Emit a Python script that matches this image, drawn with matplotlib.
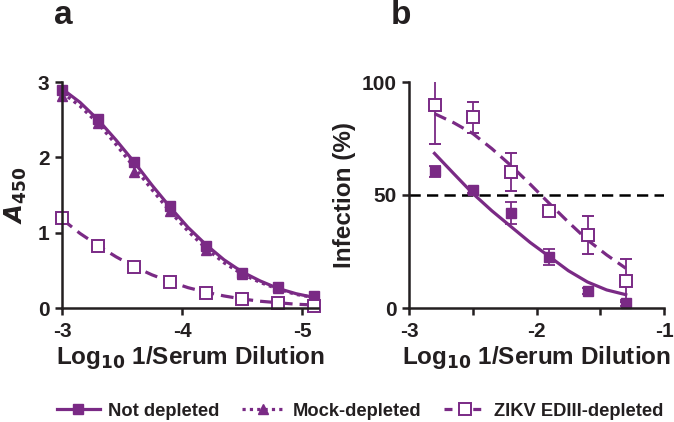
"""Serum depletion ELISA (a) and infection (b) curves."""

import matplotlib
matplotlib.use('Agg')
import matplotlib.pyplot as plt
from matplotlib.lines import Line2D

PURPLE = '#7a2a85'
INK = '#231f20'

plt.rcParams['font.family'] = ['Liberation Sans', 'DejaVu Sans']
plt.rcParams['font.weight'] = 'bold'

# Panel a: ELISA, A450 by log10 dilution
a_x = [-3.0, -3.3, -3.6, -3.9, -4.2, -4.5, -4.8, -5.1]
a_not_depleted = [2.90, 2.51, 1.94, 1.35, 0.82, 0.47, 0.28, 0.16]
a_mock = [2.81, 2.45, 1.81, 1.29, 0.77, 0.45, 0.26, 0.15]
a_zikv = [1.19, 0.82, 0.55, 0.35, 0.20, 0.12, 0.06, 0.02]

# fitted curves
a_fit_x = [-3.0, -3.15, -3.3, -3.45, -3.6, -3.75, -3.9, -4.05, -4.2,
           -4.35, -4.5, -4.65, -4.8, -4.95, -5.1]
a_fit_not = [2.91, 2.73, 2.50, 2.23, 1.94, 1.63, 1.34, 1.07, 0.84,
             0.64, 0.48, 0.36, 0.26, 0.19, 0.14]
a_fit_mock = [2.86, 2.68, 2.45, 2.17, 1.87, 1.57, 1.28, 1.02, 0.79,
              0.60, 0.45, 0.34, 0.25, 0.18, 0.14]
a_fit_zikv = [1.18, 0.99, 0.83, 0.68, 0.55, 0.44, 0.35, 0.27, 0.21,
              0.16, 0.12, 0.09, 0.07, 0.05, 0.04]

# Panel b: infection (%) by log10 dilution
b_x = [-2.8, -2.5, -2.2, -1.9, -1.6, -1.3]
b_not_depleted = [60.5, 52.2, 42.0, 22.5, 7.5, 2.2]
b_not_err = [2.5, 1.5, 5.0, 3.5, 1.5, 1.5]
b_zikv = [89.7, 84.3, 60.3, 43.1, 32.4, 12.1]
b_zikv_err = [17.0, 7.0, 8.5, 2.0, 8.5, 9.5]

b_fit_x = [-2.8, -2.65, -2.5, -2.35, -2.2, -2.05, -1.9, -1.75, -1.6, -1.45, -1.3]
b_fit_not = [68.4, 59.5, 50.7, 43.0, 36.0, 29.0, 22.8, 16.5, 11.5, 8.0, 5.9]
b_fit_zikv = [86.0, 82.0, 77.2, 70.5, 63.0, 54.8, 46.3, 38.0, 30.1, 23.5, 17.6]

labels = ['Not depleted', 'Mock-depleted', 'ZIKV EDIII-depleted']

LW = 2.3
DASH = (4.0, 2.2)
DOT = (1, 1.3)


def style_axes(ax):
    for side in ['top', 'right']:
        ax.spines[side].set_visible(False)
    for side in ['left', 'bottom']:
        ax.spines[side].set_linewidth(1.8)
        ax.spines[side].set_color(INK)
    ax.tick_params(width=1.8, length=5, labelsize=15, colors=INK)
    ax.tick_params(axis='x', pad=5)
    ax.tick_params(axis='y', pad=4)
    for lbl in ax.get_xticklabels() + ax.get_yticklabels():
        lbl.set_fontweight('bold')


fig = plt.figure(figsize=(6.74, 4.22), dpi=100)

# ---- panel a
ax1 = fig.add_axes([62 / 674, 1 - 308 / 422, 256 / 674, 226 / 422])
ax1.plot(a_fit_x, a_fit_not, color=PURPLE, lw=LW)
ax1.plot(a_fit_x, a_fit_mock, color=PURPLE, lw=LW, linestyle=(0, DOT))
ax1.plot(a_fit_x, a_fit_zikv, color=PURPLE, lw=LW, linestyle=(0, DASH))
ax1.plot(a_x, a_not_depleted, 's', color=PURPLE, ms=7.5, clip_on=False)
ax1.plot(a_x, a_mock, '^', color=PURPLE, ms=7.5, clip_on=False)
ax1.plot(a_x, a_zikv, 's', mfc='white', mec=PURPLE, mew=1.4, ms=8, clip_on=False)
ax1.set_xlim(-3, -5.133)
ax1.set_ylim(0, 3)
ax1.set_xticks([-3, -4, -5])
ax1.set_xticklabels(['-3', '-4', '-5'])
ax1.set_yticks([0, 1, 2, 3])
style_axes(ax1)
ax1.set_xlabel('Log$_{\\mathbf{10}}$ 1/Serum Dilution', fontsize=17.5,
               fontweight='bold', labelpad=2, color=INK)
ax1.set_ylabel('$\\mathbfit{A}_{\\mathbf{450}}$', fontsize=17.5, labelpad=6,
               color=INK)
fig.text(54 / 674, 1 - 24 / 422, 'a', fontsize=24, fontweight='bold', color=INK)

# ---- panel b
ax2 = fig.add_axes([409 / 674, 1 - 308 / 422, 255 / 674, 226 / 422])
ax2.axhline(50, color='black', lw=1.8, linestyle=(0, (4.5, 2.5)))
ax2.plot(b_fit_x, b_fit_not, color=PURPLE, lw=LW)
ax2.plot(b_fit_x, b_fit_zikv, color=PURPLE, lw=LW, linestyle=(0, DASH))
ax2.errorbar(b_x, b_not_depleted, yerr=b_not_err, fmt='s', color=PURPLE,
             ms=7.5, elinewidth=1.3, capsize=4.5, capthick=1.3, clip_on=False)
ax2.errorbar(b_x, b_zikv, yerr=b_zikv_err, fmt='s', color=PURPLE, mfc='white',
             mec=PURPLE, mew=1.4, ms=8.5, elinewidth=1.3, capsize=4.5,
             capthick=1.3)
ax2.set_xlim(-3, -1)
ax2.set_ylim(0, 100)
ax2.set_xticks([-3, -2.5, -2, -1.5, -1])
ax2.set_xticklabels(['-3', '', '-2', '', '-1'])
ax2.set_yticks([0, 50, 100])
style_axes(ax2)
ax2.set_xlabel('Log$_{\\mathbf{10}}$ 1/Serum Dilution', fontsize=17.5,
               fontweight='bold', labelpad=2, color=INK)
ax2.set_ylabel('Infection (%)', fontsize=17.5, fontweight='bold', labelpad=4,
               color=INK)
fig.text(391 / 674, 1 - 24 / 422, 'b', fontsize=24, fontweight='bold', color=INK)

# ---- shared legend
handles = [
    Line2D([], [], color=PURPLE, lw=LW, marker='s', ms=7.5),
    Line2D([], [], color=PURPLE, lw=LW, linestyle=(0, DOT), marker='^', ms=7.5),
    Line2D([], [], color=PURPLE, lw=LW, linestyle=(0, (2.5, 2)), marker='s',
           mfc='white', mec=PURPLE, mew=1.4, ms=8),
]
leg = fig.legend(handles, labels, loc='center', bbox_to_anchor=(0.535, 1 - 411 / 422),
                 ncol=3, frameon=False, fontsize=13.2, handlelength=2.3,
                 handletextpad=0.45, columnspacing=1.25, borderaxespad=0)
for txt in leg.get_texts():
    txt.set_fontweight('bold')
    txt.set_color(INK)

fig.savefig('out.png', dpi=100)
